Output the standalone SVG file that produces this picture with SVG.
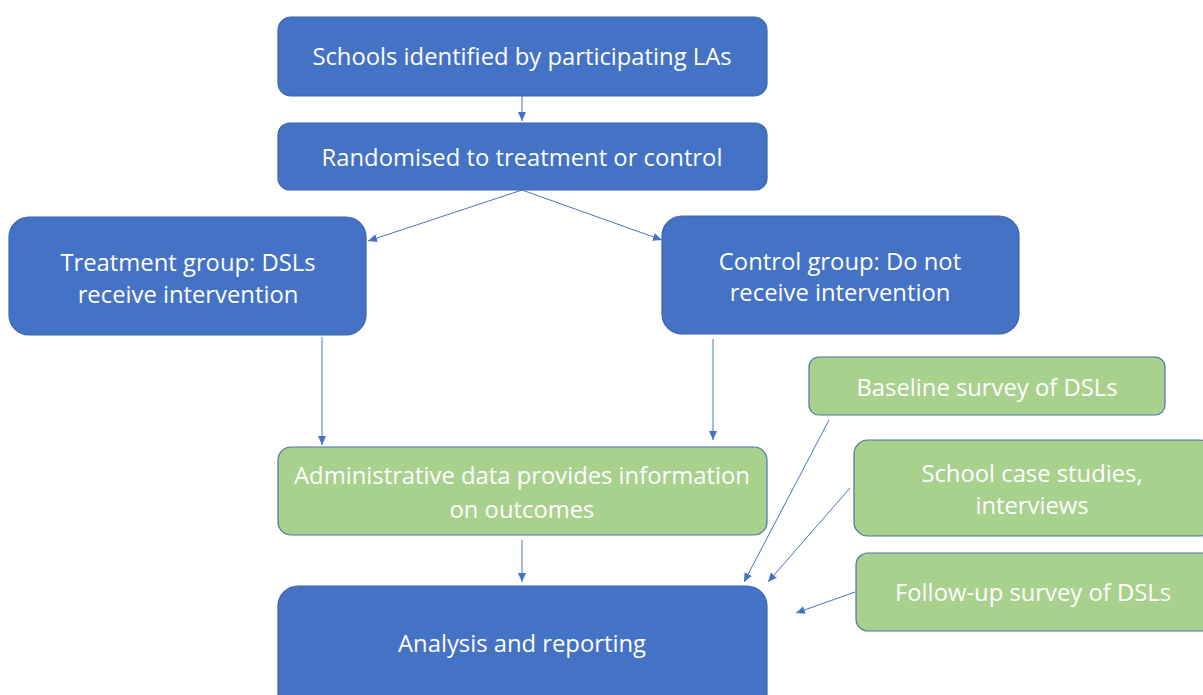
<svg xmlns="http://www.w3.org/2000/svg" width="1203" height="695" viewBox="0 0 1203 695">
<defs>
<marker id="ah" markerWidth="10" markerHeight="10" refX="9" refY="5" orient="auto" markerUnits="userSpaceOnUse">
<path d="M0,1 L9,5 L0,9 Z" fill="#4472C4"/>
</marker>
<style>
.blue{fill:#4472C4;stroke:#3A64AE;stroke-width:1.2}
.green{fill:#A9D18E;stroke:#4F72A8;stroke-width:1.2}
.t{font-family:"Open Sans","Liberation Sans",sans-serif;font-size:23.8px;fill:#FFFFFF;text-anchor:middle;dominant-baseline:central}
.c{stroke:#4472C4;stroke-width:1;fill:none;marker-end:url(#ah)}
</style>
</defs>
<rect width="1203" height="695" fill="#FFFFFF"/>
<g id="connectors">
<line class="c" x1="522" y1="96" x2="522" y2="121"/>
<line class="c" x1="522" y1="190" x2="368" y2="241"/>
<line class="c" x1="522" y1="190" x2="662" y2="240"/>
<line class="c" x1="322" y1="337" x2="322" y2="445"/>
<line class="c" x1="713" y1="339" x2="713" y2="440"/>
<line class="c" x1="522" y1="540" x2="522" y2="582"/>
<line class="c" x1="829" y1="420" x2="744" y2="582"/>
<line class="c" x1="850" y1="488" x2="768" y2="582"/>
<line class="c" x1="855" y1="592" x2="796" y2="613"/>
</g>
<g id="n1">
<rect class="blue" x="278" y="17" width="489" height="79" rx="13"/>
<text class="t" x="522" y="56">Schools identified by participating LAs</text>
</g>
<g id="n2">
<rect class="blue" x="278" y="123" width="489" height="67" rx="12"/>
<text class="t" x="522" y="157">Randomised to treatment or control</text>
</g>
<g id="n3">
<rect class="blue" x="9" y="217" width="357" height="118" rx="20"/>
<text class="t" x="188" y="262">Treatment group: DSLs</text>
<text class="t" x="188" y="294">receive intervention</text>
</g>
<g id="n4">
<rect class="blue" x="662" y="216" width="357" height="118" rx="20"/>
<text class="t" x="840" y="261">Control group: Do not</text>
<text class="t" x="840" y="292">receive intervention</text>
</g>
<g id="n5">
<rect class="green" x="809" y="357" width="356" height="58" rx="10"/>
<text class="t" x="987" y="387">Baseline survey of DSLs</text>
</g>
<g id="n6">
<rect class="green" x="278" y="447" width="489" height="88" rx="13"/>
<text class="t" x="522" y="475">Administrative data provides information</text>
<text class="t" x="522" y="509">on outcomes</text>
</g>
<g id="n7">
<rect class="green" x="854" y="440" width="360" height="96" rx="14"/>
<text class="t" x="1032" y="473">School case studies,</text>
<text class="t" x="1032" y="505">interviews</text>
</g>
<g id="n8">
<rect class="green" x="856" y="553" width="360" height="78" rx="12"/>
<text class="t" x="1033" y="592">Follow-up survey of DSLs</text>
</g>
<g id="n9">
<rect class="blue" x="278" y="586" width="489" height="130" rx="20"/>
<text class="t" x="522" y="643">Analysis and reporting</text>
</g>
</svg>
